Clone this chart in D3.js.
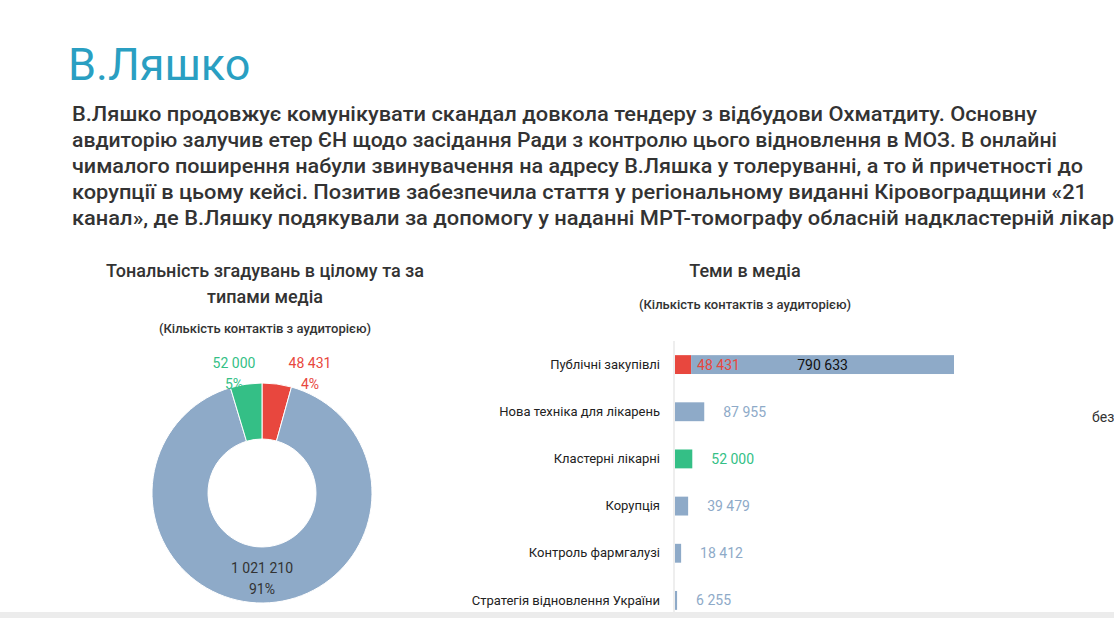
<!DOCTYPE html>
<html><head><meta charset="utf-8">
<script src="https://cdn.jsdelivr.net/npm/d3@7"></script>
<style>
body{margin:0;background:#fff;overflow:hidden}
text{font-family:Roboto,sans-serif}
</style></head><body>
<svg id="c" width="1114" height="618"></svg>
<script>
// тексти
const paraLines = [
  'В.Ляшко продовжує комунікувати скандал довкола тендеру з відбудови Охматдиту. Основну',
  'авдиторію залучив етер ЄН щодо засідання Ради з контролю цього відновлення в МОЗ. В онлайні',
  'чималого поширення набули звинувачення на адресу В.Ляшка у толеруванні, а то й причетності до',
  'корупції в цьому кейсі. Позитив забезпечила стаття у регіональному виданні Кіровоградщини «21',
  'канал», де В.Ляшку подякували за допомогу у наданні МРТ-томографу обласній надкластерній лікарні'
];
// донат (за годинниковою стрілкою: негатив, нейтрал, позитив)
const toneLabels = ['negative','neutral','positive'];
const toneValues = [48431, 1021210, 52000];
const tonePct = ['4%','91%','5%'];
const toneColors = ['#e8473e','#8eaac8','#34bf86'];
// теми
const topics = ['Публічні закупівлі','Нова техніка для лікарень','Кластерні лікарні','Корупція','Контроль фармгалузі','Стратегія відновлення України'];
const negVals = [48431,0,0,0,0,0];
const posVals = [0,0,52000,0,0,0];
const neuVals = [790633,87955,0,39479,18412,6255];

const fmt = d => d3.format(',')(d).replace(/,/g,' ');
const svg = d3.select('#c');

svg.append('text').attr('x',68).attr('y',80).text('В.Ляшко')
  .style('font-size','45px').style('fill','#2a9fc2');
svg.append('g').selectAll('text').data(paraLines).join('text')
  .attr('x',72).attr('y',(d,i)=>121+i*26).text(d=>d)
  .style('font-size','20px').style('font-weight',500).style('fill','#333')
  .attr('textLength',(d,i)=>[965,985,1011,1015,1060][i]).attr('lengthAdjust','spacingAndGlyphs');
svg.append('text').attr('x',1092).attr('y',422).text('без').style('font-size','14px').style('fill','#333');
svg.append('rect').attr('x',0).attr('y',612).attr('width',1114).attr('height',6).attr('fill','#ececec');

// донат
const titleStyle = (s,sz,w)=>s.style('font-size',sz).style('fill','#333').style('font-weight',w).attr('text-anchor','middle');
svg.append('text').attr('x',265).attr('y',277).text('Тональність згадувань в цілому та за').call(titleStyle,'18px',500);
svg.append('text').attr('x',265).attr('y',303).text('типами медіа').call(titleStyle,'18px',500);
svg.append('text').attr('x',265).attr('y',333).text('(Кількість контактів з аудиторією)').call(titleStyle,'13px',500);

const cx=262, cy=493, R=110, r0=54;
const pie = d3.pie().sort(null);
const arcs = pie(toneValues);
const arc = d3.arc().innerRadius(r0).outerRadius(R);
const g = svg.append('g').attr('transform',`translate(${cx},${cy})`);
g.selectAll('path').data(arcs).join('path').attr('d',arc).attr('fill',(d,i)=>toneColors[i]).attr('stroke','#fff').attr('stroke-width',1);
const lbl = [[48,-125],[0,80],[-28,-125]];
const lblCol = ['#e8473e','#333','#34bf86'];
g.selectAll('g.l').data(arcs).join('g').attr('class','l')
  .attr('transform',(d,i)=>`translate(${lbl[i][0]},${lbl[i][1]})`)
  .each(function(d,i){
    const s=d3.select(this);
    s.append('text').attr('text-anchor','middle').text(fmt(toneValues[i])).style('font-size','14px').style('fill',lblCol[i]);
    s.append('text').attr('text-anchor','middle').attr('y',21).text(tonePct[i]).style('font-size','14px').style('fill',lblCol[i]);
  });

// бари
svg.append('text').attr('x',745).attr('y',277).text('Теми в медіа').call(titleStyle,'18px',500);
svg.append('text').attr('x',745).attr('y',309).text('(Кількість контактів з аудиторією)').call(titleStyle,'13px',500);
const x0 = 675;
const x = d3.scaleLinear().domain([0,839064]).range([0,279]);
const y = d3.scaleBand().domain(topics).range([341,624]).paddingInner(0.6).paddingOuter(0.3);
svg.append('line').attr('x1',x0-1).attr('x2',x0-1).attr('y1',341).attr('y2',612).attr('stroke','#ddd');
svg.append('g').attr('transform',`translate(${x0-1},0)`).call(d3.axisLeft(y).tickSize(0).tickPadding(14))
  .call(a=>a.select('.domain').remove())
  .selectAll('text').style('font-size','13px').style('fill','#222').style('font-family','Roboto,sans-serif');
const rows = topics.map((t,i)=>({t,neg:negVals[i],pos:posVals[i],neu:neuVals[i]}));
const bar = svg.append('g').selectAll('g').data(rows).join('g').attr('transform',d=>`translate(${x0},${y(d.t)})`);
bar.append('rect').attr('width',d=>x(d.neg)).attr('height',y.bandwidth()).attr('fill','#e8473e');
bar.append('rect').attr('x',d=>x(d.neg)).attr('width',d=>x(d.pos)).attr('height',y.bandwidth()).attr('fill','#34bf86');
bar.append('rect').attr('x',d=>x(d.neg+d.pos)).attr('width',d=>x(d.neu)).attr('height',y.bandwidth()).attr('fill','#8eaac8');
const by = y.bandwidth()/2+5;
bar.filter(d=>d.neg>0).append('text').attr('x',d=>x(d.neg)+6).attr('y',by).text(d=>fmt(d.neg)).style('font-size','14px').style('fill','#e8473e');
bar.filter(d=>d.neg>0).append('text').attr('x',d=>x(d.neg)+x(d.neu)/2).attr('y',by).attr('text-anchor','middle').text(d=>fmt(d.neu)).style('font-size','14px').style('fill','#111');
bar.filter(d=>d.pos>0).append('text').attr('x',d=>x(d.pos)+19).attr('y',by).text(d=>fmt(d.pos)).style('font-size','14px').style('fill','#34bf86');
bar.filter(d=>d.neg===0&&d.pos===0).append('text').attr('x',d=>x(d.neu)+19).attr('y',by).text(d=>fmt(d.neu)).style('font-size','14px').style('fill','#8eaac8');
</script></body></html>
